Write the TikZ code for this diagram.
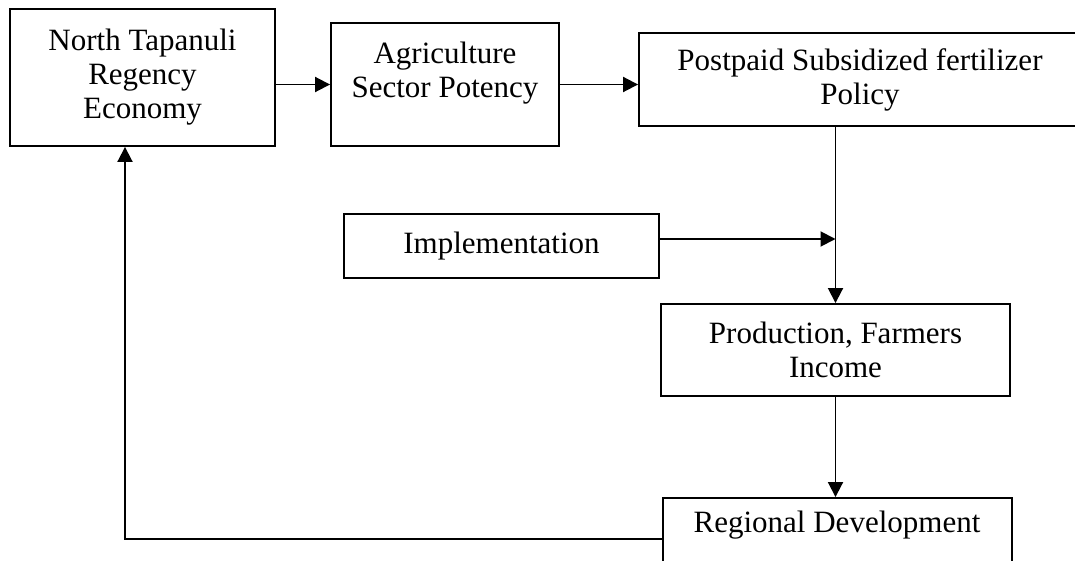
\documentclass[tikz,border=0pt]{standalone}
\usepackage{fontspec}
\setmainfont{Liberation Serif}
\usetikzlibrary{arrows.meta}

\begin{document}
\begin{tikzpicture}[x=1pt,y=-1pt,
    box/.style={draw,line width=1.9pt,inner sep=0pt,align=center,
      font=\fontsize{31}{34}\selectfont},
    txt/.style={inner sep=0pt,align=center,font=\fontsize{31}{34}\selectfont},
    arr/.style={line width=1.9pt,-{Triangle[length=15pt,width=15pt]}}]
	  \useasboundingbox (0,0) rectangle (1075,561);
	  \node [box,minimum width=265,minimum height=137] (econ) at (142.5,77.5) {North Tapanuli\\Regency\\Economy};
	  \node [box,minimum width=228,minimum height=123] (agri) at (445,84.5) {};
	  \node [txt] (agriT) at (445,73) {Agriculture\\Sector Potency};
	  \node [box,minimum width=442,minimum height=93] (policy) at (860,79.5) {Postpaid Subsidized fertilizer\\Policy};
	  \node [box,minimum width=315,minimum height=64] (impl) at (501.5,246) {Implementation};
	  \node [box,minimum width=349,minimum height=92] (prod) at (835.5,350) {Production, Farmers\\Income};
	  \node [box,minimum width=349,minimum height=82] (reg) at (837.5,539) {};
	  \node [txt] (regT) at (837,525) {Regional Development};
	  \draw [arr] (econ.east |- agri.west) -- (agri.west);
	  \draw [arr] (agri.east) -- (agri.east -| policy.west);
	  \draw [arr] (policy.south -| prod.north) -- (prod.north);
	  \draw [arr] ([yshift=7pt]impl.east) -- ([yshift=7pt]impl.east -| prod.north);
	  \draw [arr] (prod.south) -- (reg.north -| prod.south);
	  \draw [arr] (reg.west) -| ([xshift=-17.5pt]econ.south);
	 \end{tikzpicture}
\end{document}
